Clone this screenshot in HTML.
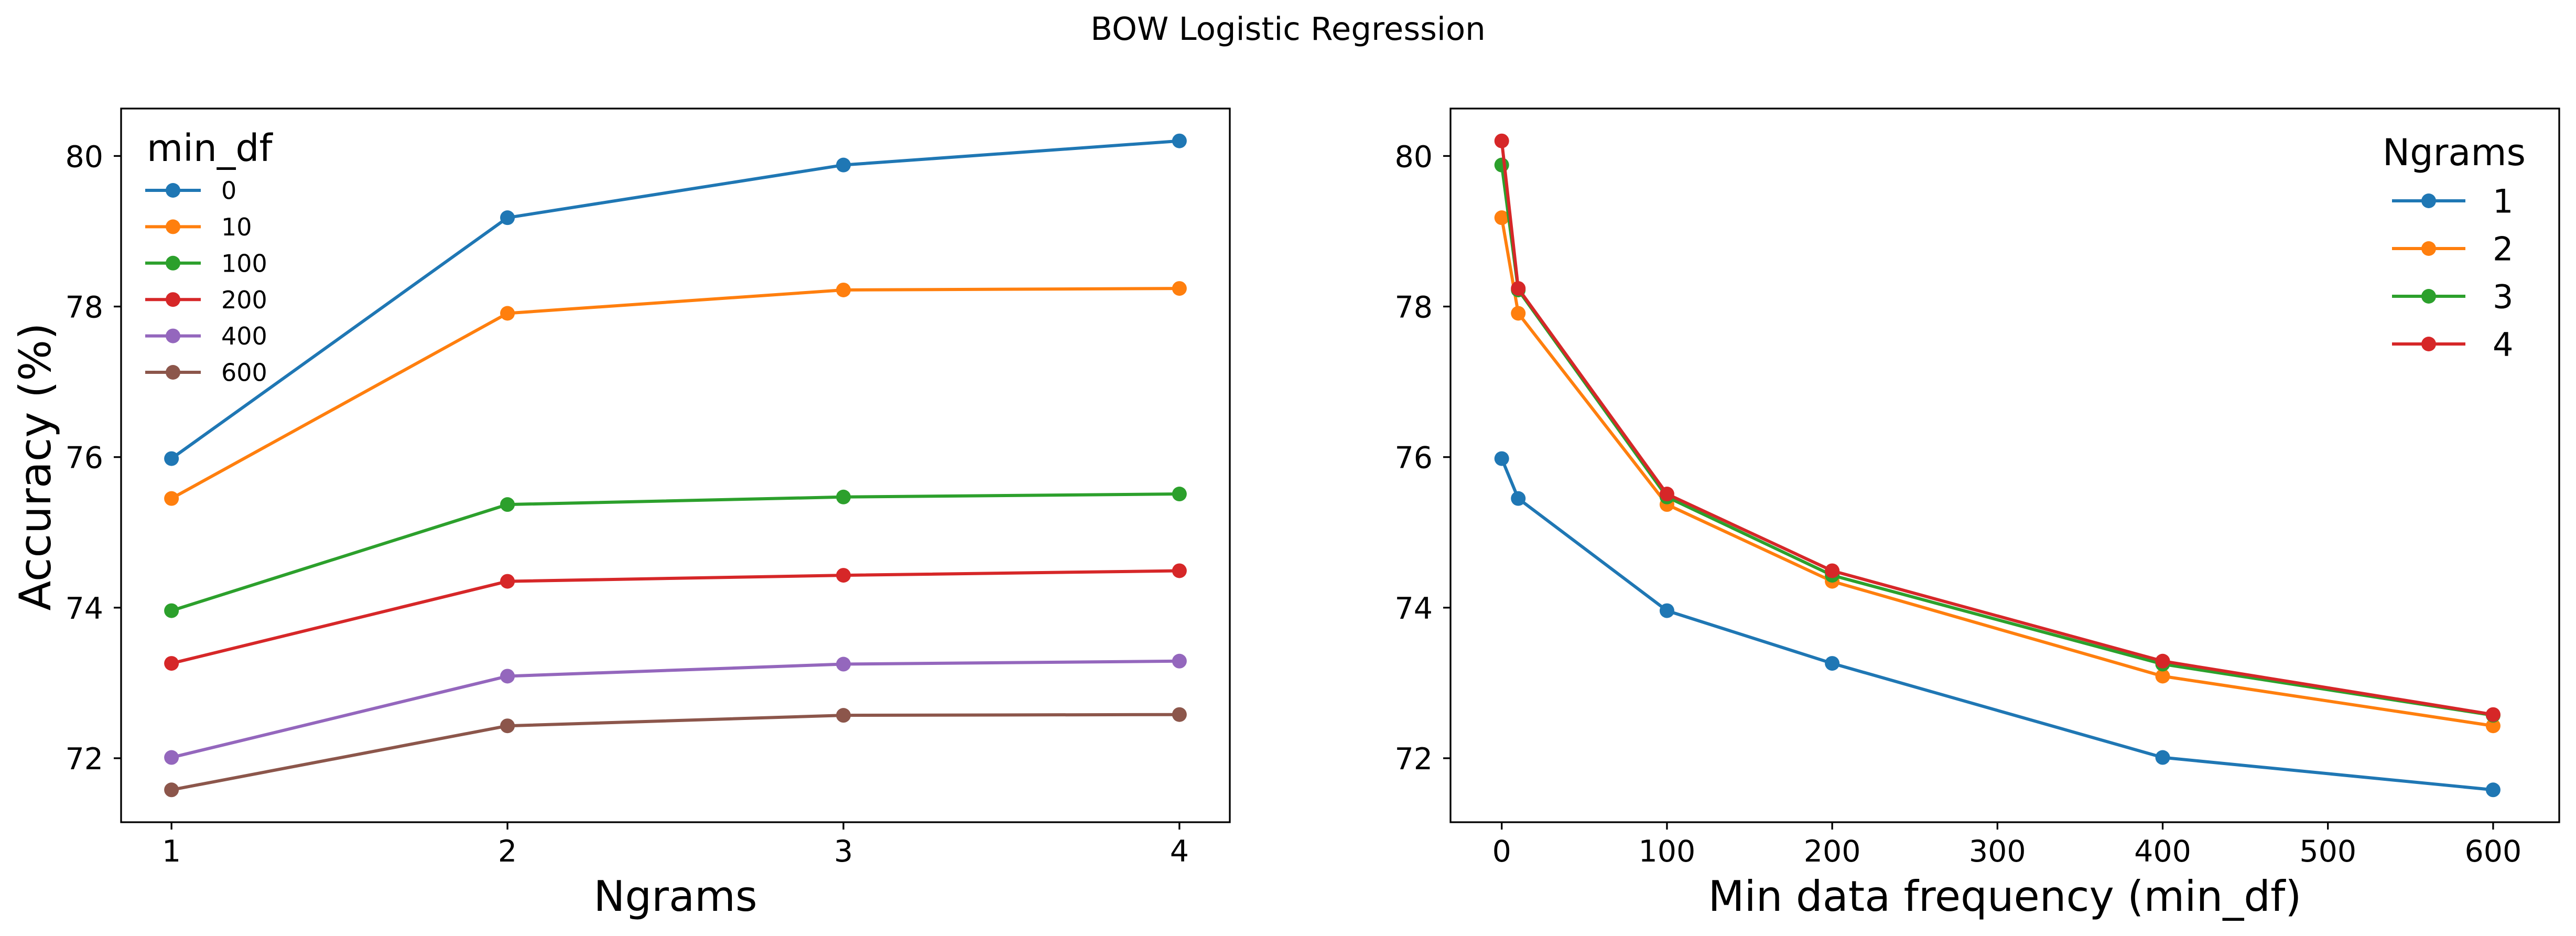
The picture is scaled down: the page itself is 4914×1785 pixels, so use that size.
<!DOCTYPE html>
<html><head><meta charset="utf-8"><style>
html,body{margin:0;padding:0;background:#fff;}
svg{display:block;font-family:"DejaVu Sans","Liberation Sans",sans-serif;}
</style></head>
<body>
<svg id="fig" width="4914" height="1785" viewBox="0 0 4914 1785" xmlns="http://www.w3.org/2000/svg">
<rect width="4914" height="1785" fill="#fff"/>
<text x="2457" y="76" font-size="61" text-anchor="middle">BOW Logistic Regression</text>
<g id="left"></g>
<g id="right"></g>
</svg>
<script>
const ngrams = [1, 2, 3, 4];
const minDfs = [0, 10, 100, 200, 400, 600];
const acc0 = [75.98, 79.18, 79.88, 80.20];
const acc10 = [75.45, 77.91, 78.22, 78.24];
const acc100 = [73.96, 75.37, 75.47, 75.51];
const acc200 = [73.26, 74.35, 74.43, 74.49];
const acc400 = [72.01, 73.09, 73.25, 73.29];
const acc600 = [71.58, 72.43, 72.57, 72.58];
const yTicks = [72, 74, 76, 78, 80];
const leftXTicks = [1, 2, 3, 4];
const rightXTicks = [0, 100, 200, 300, 400, 500, 600];

const colors = ['#1f77b4','#ff7f0e','#2ca02c','#d62728','#9467bd','#8c564b'];
const accByDf = [acc0, acc10, acc100, acc200, acc400, acc600];
const NS = 'http://www.w3.org/2000/svg';
function mk(tag, attrs, parent){const e=document.createElementNS(NS,tag);for(const k in attrs)e.setAttribute(k,attrs[k]);parent.appendChild(e);return e;}

const yMin = 71.15, yMax = 80.63, yTop = 207, yBottom = 1568;
function yScale(v){return yBottom - (v - yMin) / (yMax - yMin) * (yBottom - yTop);}
const L = {x0:231, x1:2346, dmin:0.85, dmax:4.15};
const R = {x0:2767, x1:4882, dmin:-31, dmax:640};
function xL(v){return L.x0 + (v - L.dmin)/(L.dmax - L.dmin)*(L.x1 - L.x0);}
function xR(v){return R.x0 + (v - R.dmin)/(R.dmax - R.dmin)*(R.x1 - R.x0);}

function axes(g, P, xs, xTicks, xlabel, name){
  for(const t of yTicks){
    const y=yScale(t);
    const tk=mk('line',{x1:P.x0-14,x2:P.x0,y1:y,y2:y,stroke:'#000','stroke-width':3.3},g);
    
    
    const lb=mk('text',{x:P.x0-34,y:y+21,'font-size':57,'text-anchor':'end'},g);
    lb.textContent=t;
    
    
  }
  for(const t of xTicks){
    const x=xs(t);
    const tk=mk('line',{x1:x,x2:x,y1:yBottom,y2:yBottom+14,stroke:'#000','stroke-width':3.3},g);
    
    
    const lb=mk('text',{x:x,y:1643,'font-size':57,'text-anchor':'middle'},g);
    lb.textContent=t;
    
    
  }
  const xl=mk('text',{x:(P.x0+P.x1)/2,y:1737,'font-size':80,'text-anchor':'middle'},g);
  xl.textContent=xlabel;
  
  
}
function frame(g,P,name){
  const r=mk('rect',{x:P.x0,y:yTop,width:P.x1-P.x0,height:yBottom-yTop,fill:'none',stroke:'#000','stroke-width':3.3},g);
  
  
}
function series(g, xsArr, ysArr, xs, color, name){
  const pts=xsArr.map((v,i)=>xs(v)+','+yScale(ysArr[i])).join(' ');
  const s=mk('g',{},g);
  
  
  mk('polyline',{points:pts,fill:'none',stroke:color,'stroke-width':6,'stroke-linejoin':'round'},s);
  xsArr.forEach((v,i)=>{
    const c=mk('circle',{cx:xs(v),cy:yScale(ysArr[i]),r:14,fill:color},s);
    
    
  });
}
function legendEntry(g,x0,x1,y,color,label,tx,fs,name){
  const e=mk('g',{},g);
  
  
  mk('line',{x1:x0,x2:x1,y1:y,y2:y,stroke:color,'stroke-width':6},e);
  mk('circle',{cx:(x0+x1)/2,cy:y,r:14,fill:color},e);
  const t=mk('text',{x:tx,y:y+fs*0.36,'font-size':fs},e);
  t.textContent=label;
}

// Left panel
const gl=document.getElementById('left');
axes(gl,L,xL,leftXTicks,'Ngrams','left');
accByDf.forEach((arr,i)=>series(gl,ngrams,arr,xL,colors[i],'line-mindf-'+minDfs[i]));
frame(gl,L,'left');
const yl=mk('text',{x:0,y:0,'font-size':83,'text-anchor':'middle',transform:'translate(96,890) rotate(-90)'},gl);
yl.textContent='Accuracy (%)';


const lgL=mk('g',{},gl);


const ltL=mk('text',{x:280,y:307,'font-size':71},lgL);
ltL.textContent='min_df';


minDfs.forEach((d,i)=>legendEntry(lgL,277,383,363+i*69.4,colors[i],String(d),422,46,'legend-entry-mindf-'+d));

// Right panel
const gr=document.getElementById('right');
axes(gr,R,xR,rightXTicks,'Min data frequency (min_df)','right');
ngrams.forEach((n,j)=>{
  const ys=accByDf.map(a=>a[j]);
  series(gr,minDfs,ys,xR,colors[j],'line-ngrams-'+n);
});
frame(gr,R,'right');
const lgR=mk('g',{},gr);


const ltR=mk('text',{x:4818,y:315,'font-size':70,'text-anchor':'end'},lgR);
ltR.textContent='Ngrams';


ngrams.forEach((n,j)=>legendEntry(lgR,4563,4703,383+j*91,colors[j],String(n),4755,62,'legend-entry-ngrams-'+n));
</script>
</body></html>
